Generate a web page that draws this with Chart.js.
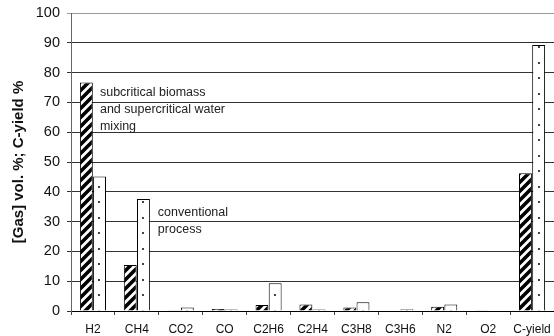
<!DOCTYPE html>
<html>
<head>
<meta charset="utf-8">
<script src="https://cdn.jsdelivr.net/npm/chart.js@4/dist/chart.umd.min.js"></script>
<style>
  html, body { margin: 0; padding: 0; background: #fff; }
  #wrap { width: 554px; height: 336px; }
</style>
</head>
<body>
<div id="wrap"><canvas id="chart"></canvas></div>
<script>
// gas composition, two processes
const categories = ['H2', 'CH4', 'CO2', 'CO', 'C2H6', 'C2H4', 'C3H8', 'C3H6', 'N2', 'O2', 'C-yield'];
const mixingValues = [76.7, 15.4, 0.1, 0.7, 2.0, 2.2, 1.2, 0.0, 1.4, 0.1, 46.2];
const conventionalValues = [45.1, 37.6, 1.2, 0.5, 9.3, 0.5, 2.9, 0.6, 2.2, 0.0, 89.3];
const yTicks = [0, 10, 20, 30, 40, 50, 60, 70, 80, 90, 100];

const FONT = 'Arial, "Liberation Sans", sans-serif';

function hatchPattern() {
    const c = document.createElement('canvas');
    c.width = 9; c.height = 9;
    const g = c.getContext('2d');
    g.fillStyle = '#fff';
    g.fillRect(0, 0, 9, 9);
    g.strokeStyle = '#000';
    g.lineWidth = 3.6;
    g.beginPath();
    for (const k of [-9, 0, 9]) {
        g.moveTo(k - 2, 11);
        g.lineTo(k + 11, -2);
    }
    g.stroke();
    return g.createPattern(c, 'repeat');
}

function dotPattern() {
    const c = document.createElement('canvas');
    c.width = 44; c.height = 31;
    const g = c.getContext('2d');
    g.fillStyle = '#fff';
    g.fillRect(0, 0, 44, 31);
    g.fillStyle = '#444';
    g.fillRect(10, 0, 2, 2);
    g.fillRect(10, 15, 2, 2);
    return g.createPattern(c, 'repeat');
}

// text notes next to the bars
const notes = {
    id: 'notes',
    afterDatasetsDraw(chart) {
        const { ctx, scales: { x, y } } = chart;
        ctx.save();
        ctx.font = '12.5px ' + FONT;
        ctx.fillStyle = '#222';
        ctx.textBaseline = 'middle';
        const x1 = x.getPixelForValue(0) + 7;
        ['subcritical biomass', 'and supercritical water', 'mixing'].forEach((t, i) => {
            ctx.fillText(t, x1, y.getPixelForValue(73.2 - i * 5.7));
        });
        const x2 = x.getPixelForValue(1) + 21;
        ['conventional', 'process'].forEach((t, i) => {
            ctx.fillText(t, x2, y.getPixelForValue(32.9 - i * 5.4));
        });
        ctx.restore();
    }
};

new Chart(document.getElementById('chart'), {
    type: 'bar',
    data: {
        labels: categories,
        datasets: [{
            label: 'subcritical biomass and supercritical water mixing',
            data: mixingValues,
            backgroundColor: hatchPattern(),
            borderColor: '#000',
            borderWidth: 1
        }, {
            label: 'conventional process',
            data: conventionalValues,
            backgroundColor: dotPattern(),
            borderColor: '#000',
            borderWidth: 1
        }]
    },
    options: {
        responsive: true,
        maintainAspectRatio: false,
        animation: false,
        layout: { padding: { top: 13, right: 0, left: 0, bottom: 0 } },
        datasets: { bar: { categoryPercentage: 0.6, barPercentage: 0.98 } },
        plugins: { legend: { display: false }, tooltip: { enabled: false } },
        scales: {
            x: {
                afterFit: s => { s.height = 25; s.paddingLeft = 0; s.paddingRight = 0; },
                grid: { display: true, drawOnChartArea: false, drawTicks: true, tickLength: 4, color: '#444', offset: true },
                border: { color: '#000', width: 1 },
                ticks: { font: { family: FONT, size: 12 }, color: '#111', padding: 7, maxRotation: 0, autoSkip: false }
            },
            y: {
                min: 0,
                max: 100,
                afterFit: s => { s.width = 71; s.paddingTop = 0; s.paddingBottom = 0; },
                afterBuildTicks: s => { s.ticks = yTicks.map(v => ({ value: v })); },
                grid: { color: ctx => ctx.tick && ctx.tick.value === 100 ? '#999' : '#333', tickLength: 4, lineWidth: 1 },
                border: { color: '#666', width: 1 },
                ticks: { font: { family: FONT, size: 14.5 }, color: '#111', padding: 7 },
                title: { display: true, text: '[Gas] vol. %; C-yield %', font: { family: FONT, size: 15, weight: 'bold' }, color: '#111', padding: { top: 10, bottom: 0 } }
            }
        }
    },
    plugins: [notes]
});
</script>
</body>
</html>
